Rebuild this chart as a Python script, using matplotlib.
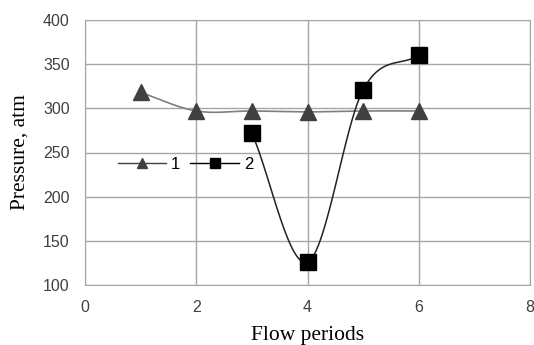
import matplotlib
matplotlib.use("Agg")
import matplotlib.pyplot as plt
import numpy as np

periods_1 = [1, 2, 3, 4, 5, 6]
pressure_1 = [318, 297, 297, 296, 297, 297]
periods_2 = [3, 4, 5, 6]
pressure_2 = [272, 126, 321, 360]


def smooth(x, y, n=40):
    """Excel-style smoothed line (Catmull-Rom through the points)"""
    x = np.asarray(x, float)
    y = np.asarray(y, float)
    px = np.concatenate([[2 * x[0] - x[1]], x, [2 * x[-1] - x[-2]]])
    py = np.concatenate([[2 * y[0] - y[1]], y, [2 * y[-1] - y[-2]]])
    xs, ys = [], []
    t = np.linspace(0, 1, n)
    for i in range(1, len(px) - 2):
        p0, p1, p2, p3 = [np.array([px[j], py[j]]) for j in range(i - 1, i + 3)]
        c1 = p1 + (p2 - p0) / 6
        c2 = p2 - (p3 - p1) / 6
        pts = ((1 - t) ** 3)[:, None] * p1 + (3 * (1 - t) ** 2 * t)[:, None] * c1 \
            + (3 * (1 - t) * t ** 2)[:, None] * c2 + (t ** 3)[:, None] * p2
        xs.extend(pts[:, 0])
        ys.extend(pts[:, 1])
    return xs, ys


fig = plt.figure(figsize=(5.34, 3.45), dpi=100)
ax = fig.add_axes([85 / 534, 1 - 285 / 345, 445 / 534, 265 / 345])

grid_c = "#a6a6a6"
sx, sy = smooth(periods_1, pressure_1)
ax.plot(sx, sy, color="#7f7f7f", linewidth=1.2, zorder=2)
ax.plot(periods_1, pressure_1, "^", color="#404040", markersize=11, zorder=3)
sx, sy = smooth(periods_2, pressure_2)
ax.plot(sx, sy, color="#222222", linewidth=1.1, zorder=2)
ax.plot(periods_2, pressure_2, "s", color="black", markersize=12, zorder=4)

# legend handles
h1, = ax.plot([], [], "-^", color="#404040", markersize=6.5, linewidth=1.0)
h2, = ax.plot([], [], "-s", color="black", markersize=7, linewidth=1.0)
ax.legend([h1, h2], ["1", "2"], ncol=2, frameon=False, loc="center left",
          bbox_to_anchor=(0.04, 0.455), handlelength=2.9,
          handletextpad=0.3, columnspacing=0.6,
          prop={"family": "Liberation Sans", "size": 12})

ax.set_xlim(0, 8)
ax.set_ylim(100, 400)
ax.set_xticks(range(0, 9, 2))
ax.set_yticks(range(100, 401, 50))
ax.grid(True, color=grid_c, linewidth=1.0)
ax.set_axisbelow(True)
for s in ax.spines.values():
    s.set_color(grid_c)
ax.tick_params(length=0, pad=11, labelsize=11.5, colors="#404040")
for lab in ax.get_xticklabels() + ax.get_yticklabels():
    lab.set_family("Liberation Sans")

ax.set_xlabel("Flow periods", family="Liberation Serif", fontsize=15.5, labelpad=8)
ax.set_ylabel("Pressure, atm", family="Liberation Serif", fontsize=15.5, labelpad=10)

fig.savefig("out.png", dpi=100)
